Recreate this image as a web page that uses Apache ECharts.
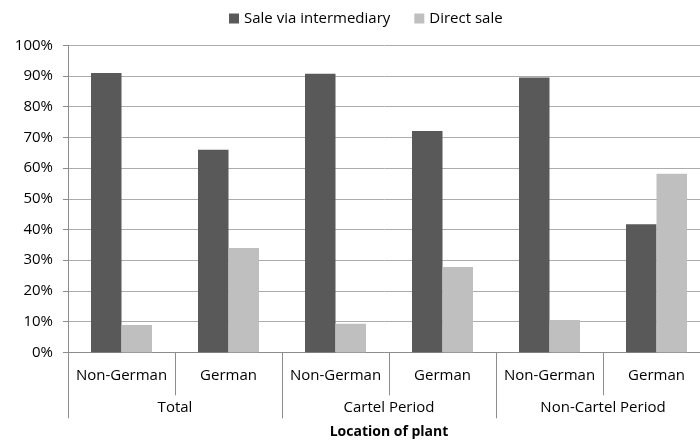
<!DOCTYPE html>
<html><head><meta charset="utf-8">
<script src="https://cdn.jsdelivr.net/npm/echarts@6/dist/echarts.min.js"></script>
<style>html,body{margin:0;padding:0;background:#fff}#c{width:700px;height:443px}</style>
</head><body><div id="c"></div>
<script>
const categories = ['Non-German','German','Non-German','German','Non-German','German'];
const groups = ['Total','Cartel Period','Non-Cartel Period'];
const seriesNames = ['Sale via intermediary','Direct sale'];
const intermediary = [91.0, 66.0, 90.7, 72.1, 89.5, 41.7];
const direct = [8.9, 34.0, 9.3, 27.8, 10.5, 58.2];
const yTicks = [0,10,20,30,40,50,60,70,80,90,100];

const font = 'Open Sans';
const chart = echarts.init(document.getElementById('c'));
chart.setOption({
  animation:false,
  textStyle:{fontFamily:font},
  legend:{
    top:6, left:224, itemWidth:10, itemHeight:10, itemGap:24,
    icon:'rect',
    textStyle:{fontFamily:font,fontSize:15,color:'#000'},
    data:seriesNames
  },
  grid:{left:68,right:-10,top:45.3,bottom:90.7,containLabel:false,outerBoundsMode:'none'},
  xAxis:[{
    type:'category', data:categories, position:'bottom',
    axisLine:{lineStyle:{color:'#8c8c8c'}},
    axisTick:{show:true,length:43,interval:0,lineStyle:{color:'#8c8c8c'}},
    axisLabel:{interval:0,margin:16,color:'#000',fontSize:15,fontFamily:font}
  },{
    type:'category', data:groups, position:'bottom',
    axisLine:{show:false},
    axisTick:{show:true,length:66,interval:0,lineStyle:{color:'#8c8c8c'}},
    axisLabel:{interval:0,margin:48,color:'#000',fontSize:15,fontFamily:font},
    name:'Location of plant', nameLocation:'middle', nameGap:73,
    nameTextStyle:{fontWeight:'bold',color:'#000',fontSize:14,fontFamily:font}
  }],
  yAxis:{
    type:'value', min:yTicks[0], max:yTicks[yTicks.length-1], interval:10,
    axisLine:{show:true,lineStyle:{color:'#8c8c8c'}},
    axisTick:{show:true,length:5,lineStyle:{color:'#8c8c8c'}},
    axisLabel:{formatter:v=>v+'%',margin:15,color:'#000',fontSize:15,fontFamily:font},
    splitLine:{lineStyle:{color:'#acacac'}}
  },
  series:[{
    name:seriesNames[0], type:'bar', data:intermediary, xAxisIndex:0,
    barWidth:'28.5%', barGap:'0%', itemStyle:{color:'#595959'}
  },{
    name:seriesNames[1], type:'bar', data:direct, xAxisIndex:0,
    barWidth:'28.5%', barGap:'0%', itemStyle:{color:'#bfbfbf'}
  }]
});
</script></body></html>
